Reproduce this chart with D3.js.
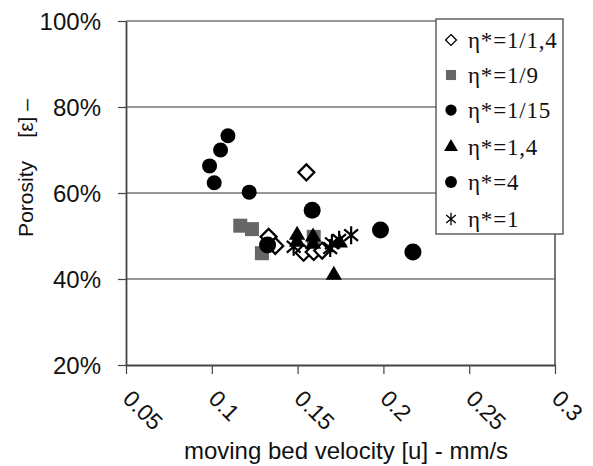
<!DOCTYPE html>
<html>
<head>
<meta charset="utf-8">
<script src="https://cdn.jsdelivr.net/npm/d3@7"></script>
<style>
  body { margin: 0; background: #fff; }
  svg { display: block; }
</style>
</head>
<body>
<div id="chart"></div>
<script>
// eta* = 1/1,4  (open diamonds)
const seriesDiamond = [
    [0.1551, 0.648], [0.1331, 0.498], [0.1370, 0.477],
    [0.1535, 0.461], [0.1594, 0.463], [0.1643, 0.466]
];
// eta* = 1/9  (grey squares)
const seriesSquare = [
    [0.1166, 0.524], [0.1234, 0.516], [0.1292, 0.460], [0.1594, 0.498]
];
// eta* = 1/15  (black circles)
const seriesCircle15 = [
    [0.1094, 0.733], [0.1051, 0.700], [0.0987, 0.663],
    [0.1014, 0.624], [0.1218, 0.602]
];
// eta* = 1,4  (black triangles)
const seriesTriangle = [
    [0.1497, 0.502], [0.1497, 0.486], [0.1590, 0.498],
    [0.1590, 0.481], [0.1711, 0.409], [0.1746, 0.484]
];
// eta* = 4  (black circles, bigger)
const seriesCircle4 = [
    [0.1585, 0.560], [0.1325, 0.479], [0.1983, 0.514], [0.2172, 0.463]
];
// eta* = 1  (asterisks)
const seriesStar = [
    [0.1477, 0.475], [0.1690, 0.472], [0.1700, 0.483],
    [0.1742, 0.491], [0.1812, 0.502]
];

const xTicks = [0.05, 0.1, 0.15, 0.2, 0.25, 0.3];
const yTicks = [0.2, 0.4, 0.6, 0.8, 1.0];
const legendLabels = ["η*=1/1,4", "η*=1/9", "η*=1/15", "η*=1,4", "η*=4", "η*=1"];

const width = 593, height = 466;
const sans = "'Liberation Sans', Arial, sans-serif";

const svg = d3.select("#chart").append("svg")
    .attr("width", width)
    .attr("height", height);

svg.append("rect").attr("width", width).attr("height", height).attr("fill", "#fff");

const x = d3.scaleLinear().domain([0.05, 0.3]).range([126, 555]);
const y = d3.scaleLinear().domain([0.2, 1.0]).range([365, 21]);

// gridlines
svg.append("g")
    .selectAll("line")
    .data(yTicks.filter(d => d > 0.2))
    .enter()
    .append("line")
    .attr("x1", x(0.05)).attr("x2", x(0.3))
    .attr("y1", d => y(d)).attr("y2", d => y(d))
    .attr("stroke", "#777")
    .attr("stroke-width", 1.4);

// right border
svg.append("line")
    .attr("x1", x(0.3)).attr("x2", x(0.3))
    .attr("y1", y(1)).attr("y2", y(0.2))
    .attr("stroke", "#555")
    .attr("stroke-width", 1.6);

const yAxis = svg.append("g")
    .attr("transform", `translate(${x(0.05)},0)`)
    .call(d3.axisLeft(y).tickValues(yTicks).tickSize(8).tickSizeOuter(0)
        .tickFormat(d => Math.round(d * 100) + "%"));
yAxis.select(".domain").attr("stroke", "#444").attr("stroke-width", 1.8);
yAxis.selectAll(".tick line").attr("stroke", "#444").attr("stroke-width", 1.2);
yAxis.selectAll(".tick text")
    .attr("x", -25)
    .attr("dy", "0.35em")
    .attr("fill", "#111")
    .style("font-family", sans)
    .style("font-size", "24px");

const xAxis = svg.append("g")
    .attr("transform", `translate(0,${y(0.2)})`)
    .call(d3.axisBottom(x).tickValues(xTicks).tickSize(9).tickSizeOuter(0)
        .tickFormat(d => String(d)));
xAxis.select(".domain").attr("stroke", "#444").attr("stroke-width", 1.8);
xAxis.selectAll(".tick line").attr("stroke", "#444").attr("stroke-width", 1.2);
xAxis.selectAll(".tick text")
    .attr("y", 0)
    .attr("dy", 0)
    .attr("text-anchor", "start")
    .attr("transform", "translate(-5,35) rotate(45)")
    .attr("fill", "#111")
    .style("font-family", sans)
    .style("font-size", "23px");

// axis titles
svg.append("text")
    .attr("x", 346).attr("y", 459)
    .attr("text-anchor", "middle")
    .attr("fill", "#111")
    .style("font-family", sans)
    .style("font-size", "24px")
    .text("moving bed velocity [u] - mm/s");

svg.append("text")
    .attr("transform", "translate(33,168) rotate(-90)")
    .attr("text-anchor", "middle")
    .attr("fill", "#111")
    .style("font-family", sans)
    .style("font-size", "21px")
    .style("white-space", "pre")
    .text("Porosity    [ε] –");

// marker drawing helpers
function diamondPath(s) {
    return `M0,${-s}L${s},0L0,${s}L${-s},0Z`;
}
function starPath(s) {
    const a = s * Math.cos(Math.PI * 40 / 180), b = s * Math.sin(Math.PI * 40 / 180);
    return `M0,${-s}L0,${s}M${-a},${-b}L${a},${b}M${-a},${b}L${a},${-b}`;
}
const markers = [
    { data: seriesDiamond, draw: (g, k, w) => g.append("path").attr("d", diamondPath(8 * k)).attr("fill", "#fff").attr("stroke", "#000").attr("stroke-width", w || 2.2) },
    { data: seriesSquare, draw: (g, k) => g.append("rect").attr("x", -7 * k).attr("y", -7 * k).attr("width", 14 * k).attr("height", 14 * k).attr("fill", "#666") },
    { data: seriesCircle15, draw: (g, k) => g.append("circle").attr("r", 7.5 * k).attr("fill", "#000") },
    { data: seriesTriangle, draw: (g, k) => g.append("path").attr("d", d3.symbol(d3.symbolTriangle, 115 * k * k)()).attr("fill", "#000") },
    { data: seriesCircle4, draw: (g, k) => g.append("circle").attr("r", 8.5 * k).attr("fill", "#000") },
    { data: seriesStar, draw: (g, k, w) => g.append("path").attr("d", starPath(9 * k)).attr("fill", "none").attr("stroke", "#000").attr("stroke-width", w || 2.2) }
];

// points, drawn in series order
markers.forEach(m => {
    svg.append("g")
        .selectAll("g")
        .data(m.data)
        .enter()
        .append("g")
        .attr("transform", d => `translate(${x(d[0])},${y(d[1])})`)
        .each(function () { m.draw(d3.select(this), 1); });
});

// legend
const legend = svg.append("g");
legend.append("rect")
    .attr("x", 436).attr("y", 19)
    .attr("width", 127).attr("height", 215)
    .attr("fill", "#fff")
    .attr("stroke", "#555")
    .attr("stroke-width", 1.4);

const legendY = [40, 75, 110, 147, 182, 219];
const legendScale = [0.68, 0.72, 0.75, 0.85, 0.7, 0.7];
legendLabels.forEach((label, i) => {
    const row = legend.append("g").attr("transform", `translate(451,${legendY[i]})`);
    const mk = row.append("g");
    markers[i].draw(mk, legendScale[i], 1.3);
    row.append("text")
        .attr("x", 17).attr("dy", "0.35em")
        .attr("fill", "#111")
        .style("font-family", "'Liberation Serif', 'Times New Roman', serif")
        .style("font-size", "23px")
        .style("letter-spacing", "0.8px")
        .text(label);
});
</script>
</body>
</html>
